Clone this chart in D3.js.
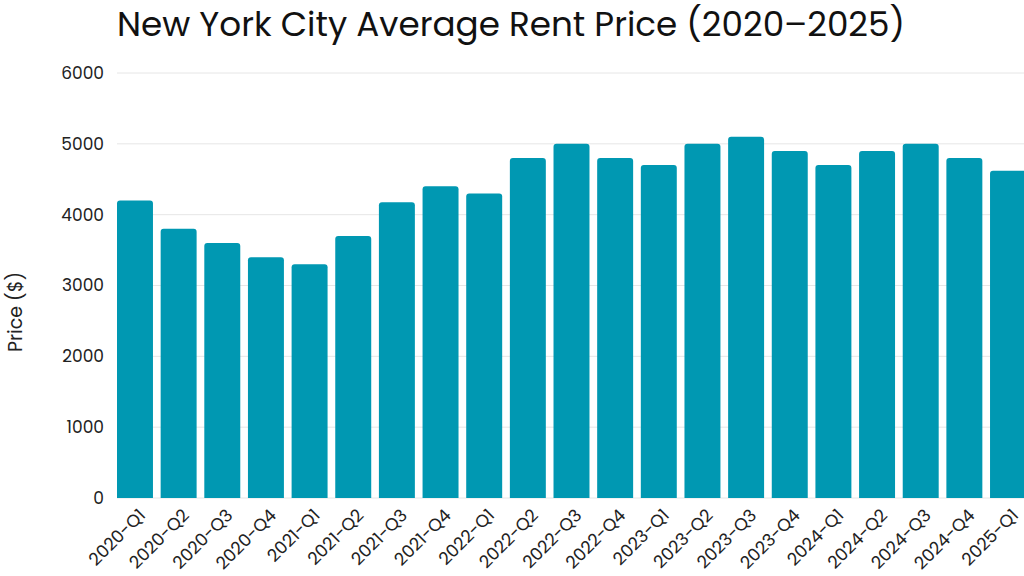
<!DOCTYPE html>
<html><head><meta charset="utf-8">
<script src="https://cdn.jsdelivr.net/npm/d3@7"></script>
<style>body{margin:0;background:#fff;} svg{display:block;}</style>
</head><body>
<svg id="c" width="1024" height="576"></svg>
<script>
const categories = ["2020-Q1","2020-Q2","2020-Q3","2020-Q4","2021-Q1","2021-Q2","2021-Q3","2021-Q4","2022-Q1","2022-Q2","2022-Q3","2022-Q4","2023-Q1","2023-Q2","2023-Q3","2023-Q4","2024-Q1","2024-Q2","2024-Q3","2024-Q4","2025-Q1"];
const prices = [4200,3800,3600,3400,3300,3700,4175,4400,4300,4800,5000,4800,4700,5000,5100,4900,4700,4900,5000,4800,4620];
const yTicks = [0,1000,2000,3000,4000,5000,6000];
const title = "New York City Average Rent Price (2020\u20132025)";
const yLabel = "Price ($)";

const font = "Poppins, 'Open Sans', sans-serif";
const svg = d3.select("#c");
const x = d3.scaleBand().domain(categories).range([117, 1026]).paddingInner(0.176).paddingOuter(0);
const y = d3.scaleLinear().domain([0, 6000]).range([498, 73]);

// grid
svg.append("g").selectAll("line").data(yTicks).join("line")
  .attr("x1", 117).attr("x2", 1024)
  .attr("y1", d => y(d)).attr("y2", d => y(d))
  .attr("stroke", "#e6e6e6").attr("stroke-width", 1);

// y tick labels
const yAxis = d3.axisLeft(y).tickValues(yTicks).tickSize(0).tickPadding(0).tickFormat(d3.format("d"));
const ga = svg.append("g").attr("transform", "translate(104,0)").call(yAxis);
ga.select(".domain").remove();
ga.selectAll("text").attr("font-family", font).attr("font-size", 17).attr("fill", "#222");

// bars
svg.append("g").selectAll("path").data(categories).join("path")
  .attr("d", (c, i) => {
    const x0 = x(c), w = x.bandwidth(), y0 = y(prices[i]), yb = y(0), r = 3;
    return `M${x0},${yb}V${y0 + r}Q${x0},${y0} ${x0 + r},${y0}H${x0 + w - r}Q${x0 + w},${y0} ${x0 + w},${y0 + r}V${yb}Z`;
  })
  .attr("fill", "#0098B2");

// x labels
const xAxis = d3.axisBottom(x).tickSize(0).tickPadding(0);
const gx = svg.append("g").attr("transform", "translate(0,498)").call(xAxis);
gx.select(".domain").remove();
gx.selectAll("text")
  .attr("font-family", font).attr("font-size", 17.5).attr("fill", "#222")
  .attr("text-anchor", "end").attr("dy", null).attr("y", 0).attr("x", 0)
  .attr("transform", "translate(8,15) rotate(-45)")
  .attr("dominant-baseline", "middle");

// title
svg.append("text").attr("x", 117).attr("y", 36)
  .attr("font-family", font).attr("font-size", 33).attr("fill", "#111")
  .attr("textLength", 788).attr("lengthAdjust", "spacingAndGlyphs")
  .text(title);

// y label
svg.append("text").attr("transform", "translate(22,312) rotate(-90)")
  .attr("text-anchor", "middle").attr("font-family", font).attr("font-size", 19).attr("fill", "#222")
  .text(yLabel);
</script>
</body></html>
